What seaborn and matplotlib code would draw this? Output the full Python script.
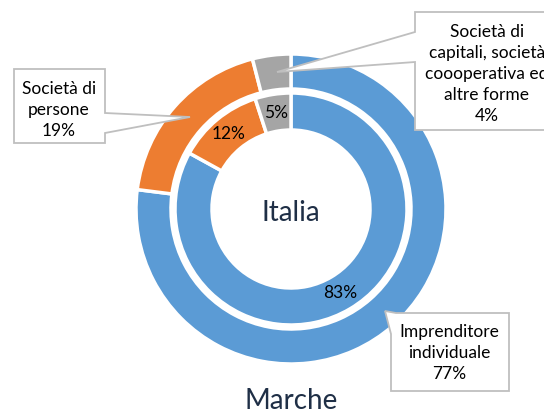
import matplotlib
matplotlib.use("Agg")
import matplotlib.pyplot as plt
from matplotlib.patches import Polygon
import seaborn as sns

# ---- data ----
categories = ["Imprenditore individuale", "Società di persone",
              "Società di capitali, società coooperativa ed altre forme"]
marche_pct = [77, 19, 4]   # outer ring
italia_pct = [83, 12, 5]   # inner ring
outer_labels = ["Imprenditore\nindividuale", "Società di\npersone",
                "Società di\ncapitali, società\ncoooperativa ed\naltre forme"]
center_label = "Italia"
bottom_label = "Marche"

sns.set_theme(style="white")
plt.rcParams["font.family"] = ["Lato", "DejaVu Sans"]
colors = sns.color_palette(["#5B9BD5", "#ED7D31", "#A5A5A5"])

W, H = 544, 415
fig = plt.figure(figsize=(W / 100, H / 100), dpi=100)
ax = fig.add_axes([0, 0, 1, 1])

cx, cy = 291, H - 209
R_out, w_out = 155, 35
R_in, w_in = 116, 37

ax.pie(marche_pct, radius=R_out, center=(cx, cy), startangle=90, counterclock=False,
       colors=colors, wedgeprops=dict(width=w_out, edgecolor="white", linewidth=2.5))
ax.pie(italia_pct, radius=R_in, center=(cx, cy), startangle=90, counterclock=False,
       colors=colors, wedgeprops=dict(width=w_in, edgecolor="white", linewidth=2.5),
       autopct=lambda p: f"{p:.0f}%", pctdistance=(R_in - w_in / 2) / R_in,
       textprops=dict(fontsize=12.5, color="black"))

ax.text(cx, H - 213, center_label, ha="center", va="center", fontsize=20, color="#1F2F46")
ax.text(cx, H - 401, bottom_label, ha="center", va="center", fontsize=20, color="#1F2F46")

edge = "#BFBFBF"

def callout(pts, tx, ty, text):
    poly = Polygon([(x, H - y) for x, y in pts], closed=True, facecolor="white",
                   edgecolor=edge, linewidth=1.3, zorder=5)
    ax.add_patch(poly)
    ax.text(tx, H - ty, text, ha="center", va="center", fontsize=12.5,
            color="black", linespacing=1.4, zorder=6)

# Imprenditore individuale
callout([(385, 311), (396, 313), (509, 313), (509, 391), (391, 391), (391, 334)],
        449, 353, f"{outer_labels[0]}\n{marche_pct[0]}%")
# Società di persone
callout([(14, 69), (105, 69), (105, 113), (190, 117), (105, 133), (105, 143), (14, 143)],
        59, 110, f"{outer_labels[1]}\n{marche_pct[1]}%")
# Società di capitali
callout([(415, 12), (600, 12), (600, 130), (415, 130), (415, 62), (277, 72), (415, 32)],
        487, 74, f"{outer_labels[2]}\n{marche_pct[2]}%")

ax.set_xlim(0, W)
ax.set_ylim(0, H)
ax.set_aspect("equal")
ax.axis("off")

fig.savefig("out.png", dpi=100)
